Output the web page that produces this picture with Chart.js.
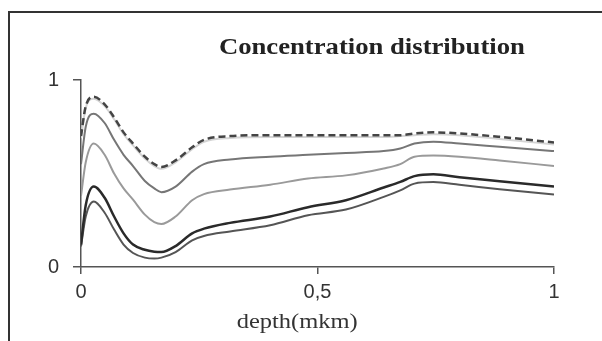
<!DOCTYPE html>
<html><head><meta charset="utf-8">
<script src="https://cdn.jsdelivr.net/npm/chart.js@4/dist/chart.umd.min.js"></script>
<style>
html,body{margin:0;padding:0;background:#fff;overflow:hidden;}
#wrap{position:relative;width:602px;height:341px;overflow:hidden;}
#frame{position:absolute;left:8px;top:11px;width:620px;height:360px;border-top:2px solid #333;border-left:2px solid #333;}
canvas{position:absolute;left:0;top:0;}
</style></head><body>
<div id="wrap"><div id="frame"></div><canvas id="c" width="602" height="341"></canvas></div>
<script>
const depth   = [0, 0.01, 0.027, 0.05, 0.07, 0.09, 0.11, 0.135, 0.155, 0.17, 0.2, 0.235, 0.26, 0.315, 0.4, 0.48, 0.56, 0.64, 0.675, 0.705, 0.745, 0.8, 0.885, 1.0];
const seriesA = [0.70, 0.86, 0.91, 0.87, 0.80, 0.72, 0.66, 0.59, 0.55, 0.535, 0.57, 0.64, 0.68, 0.70, 0.705, 0.705, 0.705, 0.705, 0.705, 0.714, 0.72, 0.714, 0.696, 0.666];
const seriesB = [0.69, 0.85, 0.90, 0.86, 0.79, 0.71, 0.65, 0.58, 0.54, 0.525, 0.56, 0.63, 0.67, 0.69, 0.695, 0.695, 0.695, 0.695, 0.70, 0.705, 0.71, 0.705, 0.685, 0.655];
const seriesC = [0.55, 0.75, 0.82, 0.77, 0.68, 0.60, 0.54, 0.46, 0.42, 0.40, 0.43, 0.51, 0.55, 0.575, 0.59, 0.60, 0.61, 0.62, 0.634, 0.66, 0.67, 0.66, 0.643, 0.62];
const seriesD = [0.38, 0.56, 0.66, 0.60, 0.50, 0.42, 0.36, 0.28, 0.24, 0.23, 0.27, 0.357, 0.39, 0.414, 0.44, 0.473, 0.49, 0.527, 0.55, 0.59, 0.596, 0.59, 0.57, 0.54];
const seriesE = [0.12, 0.33, 0.43, 0.37, 0.27, 0.18, 0.12, 0.092, 0.082, 0.08, 0.112, 0.18, 0.205, 0.236, 0.27, 0.32, 0.357, 0.425, 0.455, 0.486, 0.496, 0.48, 0.459, 0.43];
const seriesF = [0.11, 0.27, 0.35, 0.29, 0.20, 0.12, 0.075, 0.05, 0.045, 0.05, 0.08, 0.143, 0.166, 0.19, 0.223, 0.277, 0.307, 0.375, 0.41, 0.446, 0.454, 0.44, 0.416, 0.3875];
const xTickValues = [0, 0.5, 1];
const xTickLabels = ['0', '0,5', '1'];
const yTickValues = [0, 1];
const yTickLabels = ['0', '1'];
const titleText = 'Concentration distribution';
const xAxisTitle = 'depth(mkm)';

function pts(arr){ return depth.map((d,i)=>({x:d, y:arr[i]})); }

function stretchedText(ctx, text, font, color, cx, cy, targetW){
  ctx.save();
  ctx.font = font;
  ctx.fillStyle = color;
  ctx.textAlign = 'center';
  ctx.textBaseline = 'middle';
  const k = targetW / ctx.measureText(text).width;
  ctx.translate(cx, cy);
  ctx.scale(k, 1);
  ctx.fillText(text, 0, 0);
  ctx.restore();
}

const textPlugin = {
  id: 'texts',
  afterDraw(chart){
    const ctx = chart.ctx, a = chart.chartArea;
    const w = a.right - a.left;
    stretchedText(ctx, titleText, 'bold 24px "Liberation Serif"', '#222', a.left + w*0.615, a.top - 32, 306);
    stretchedText(ctx, xAxisTitle, '21px "Liberation Serif"', '#333', a.left + w*0.457, a.bottom + 55, 121);
  }
};

const common = {pointRadius:0, fill:false, cubicInterpolationMode:'monotone'};
new Chart(document.getElementById('c'), {
  type: 'line',
  data: {
    datasets: [
      Object.assign({label:'A', data:pts(seriesA), borderColor:'#444444', borderWidth:2.5, borderDash:[7,4]}, common),
      Object.assign({label:'B', data:pts(seriesB), borderColor:'#d4d4d4', borderWidth:2}, common),
      Object.assign({label:'C', data:pts(seriesC), borderColor:'#767676', borderWidth:2}, common),
      Object.assign({label:'D', data:pts(seriesD), borderColor:'#9a9a9a', borderWidth:2}, common),
      Object.assign({label:'E', data:pts(seriesE), borderColor:'#2a2a2a', borderWidth:2.5}, common),
      Object.assign({label:'F', data:pts(seriesF), borderColor:'#555555', borderWidth:2}, common)
    ]
  },
  options: {
    responsive: false,
    animation: false,
    layout: {padding: {top: 80, right: 48, left: 0, bottom: 0}},
    plugins: {legend:{display:false}, title:{display:false}, tooltip:{enabled:false}},
    scales: {
      x: {
        type: 'linear', min: 0, max: 1,
        afterBuildTicks(s){ s.ticks = xTickValues.map(v=>({value:v})); },
        afterFit(s){ s.height = 74; },
        grid: {drawOnChartArea:false, drawTicks:true, tickLength:7, color:'#555', lineWidth:1.5},
        border: {display:true, color:'#555', width:1.5},
        ticks: {font:{family:'"Liberation Sans"', size:20}, color:'#333', padding:6, maxRotation:0,
                callback:(v,i)=>xTickLabels[i]}
      },
      y: {
        min: 0, max: 1,
        afterBuildTicks(s){ s.ticks = yTickValues.map(v=>({value:v})); },
        afterFit(s){ s.width = 81; },
        grid: {drawOnChartArea:false, drawTicks:true, tickLength:8, color:'#555', lineWidth:1.5},
        border: {display:true, color:'#555', width:1.5},
        ticks: {font:{family:'"Liberation Sans"', size:20}, color:'#333', padding:14,
                callback:(v,i)=>yTickLabels[i]}
      }
    }
  },
  plugins: [textPlugin]
});
</script>
</body></html>
